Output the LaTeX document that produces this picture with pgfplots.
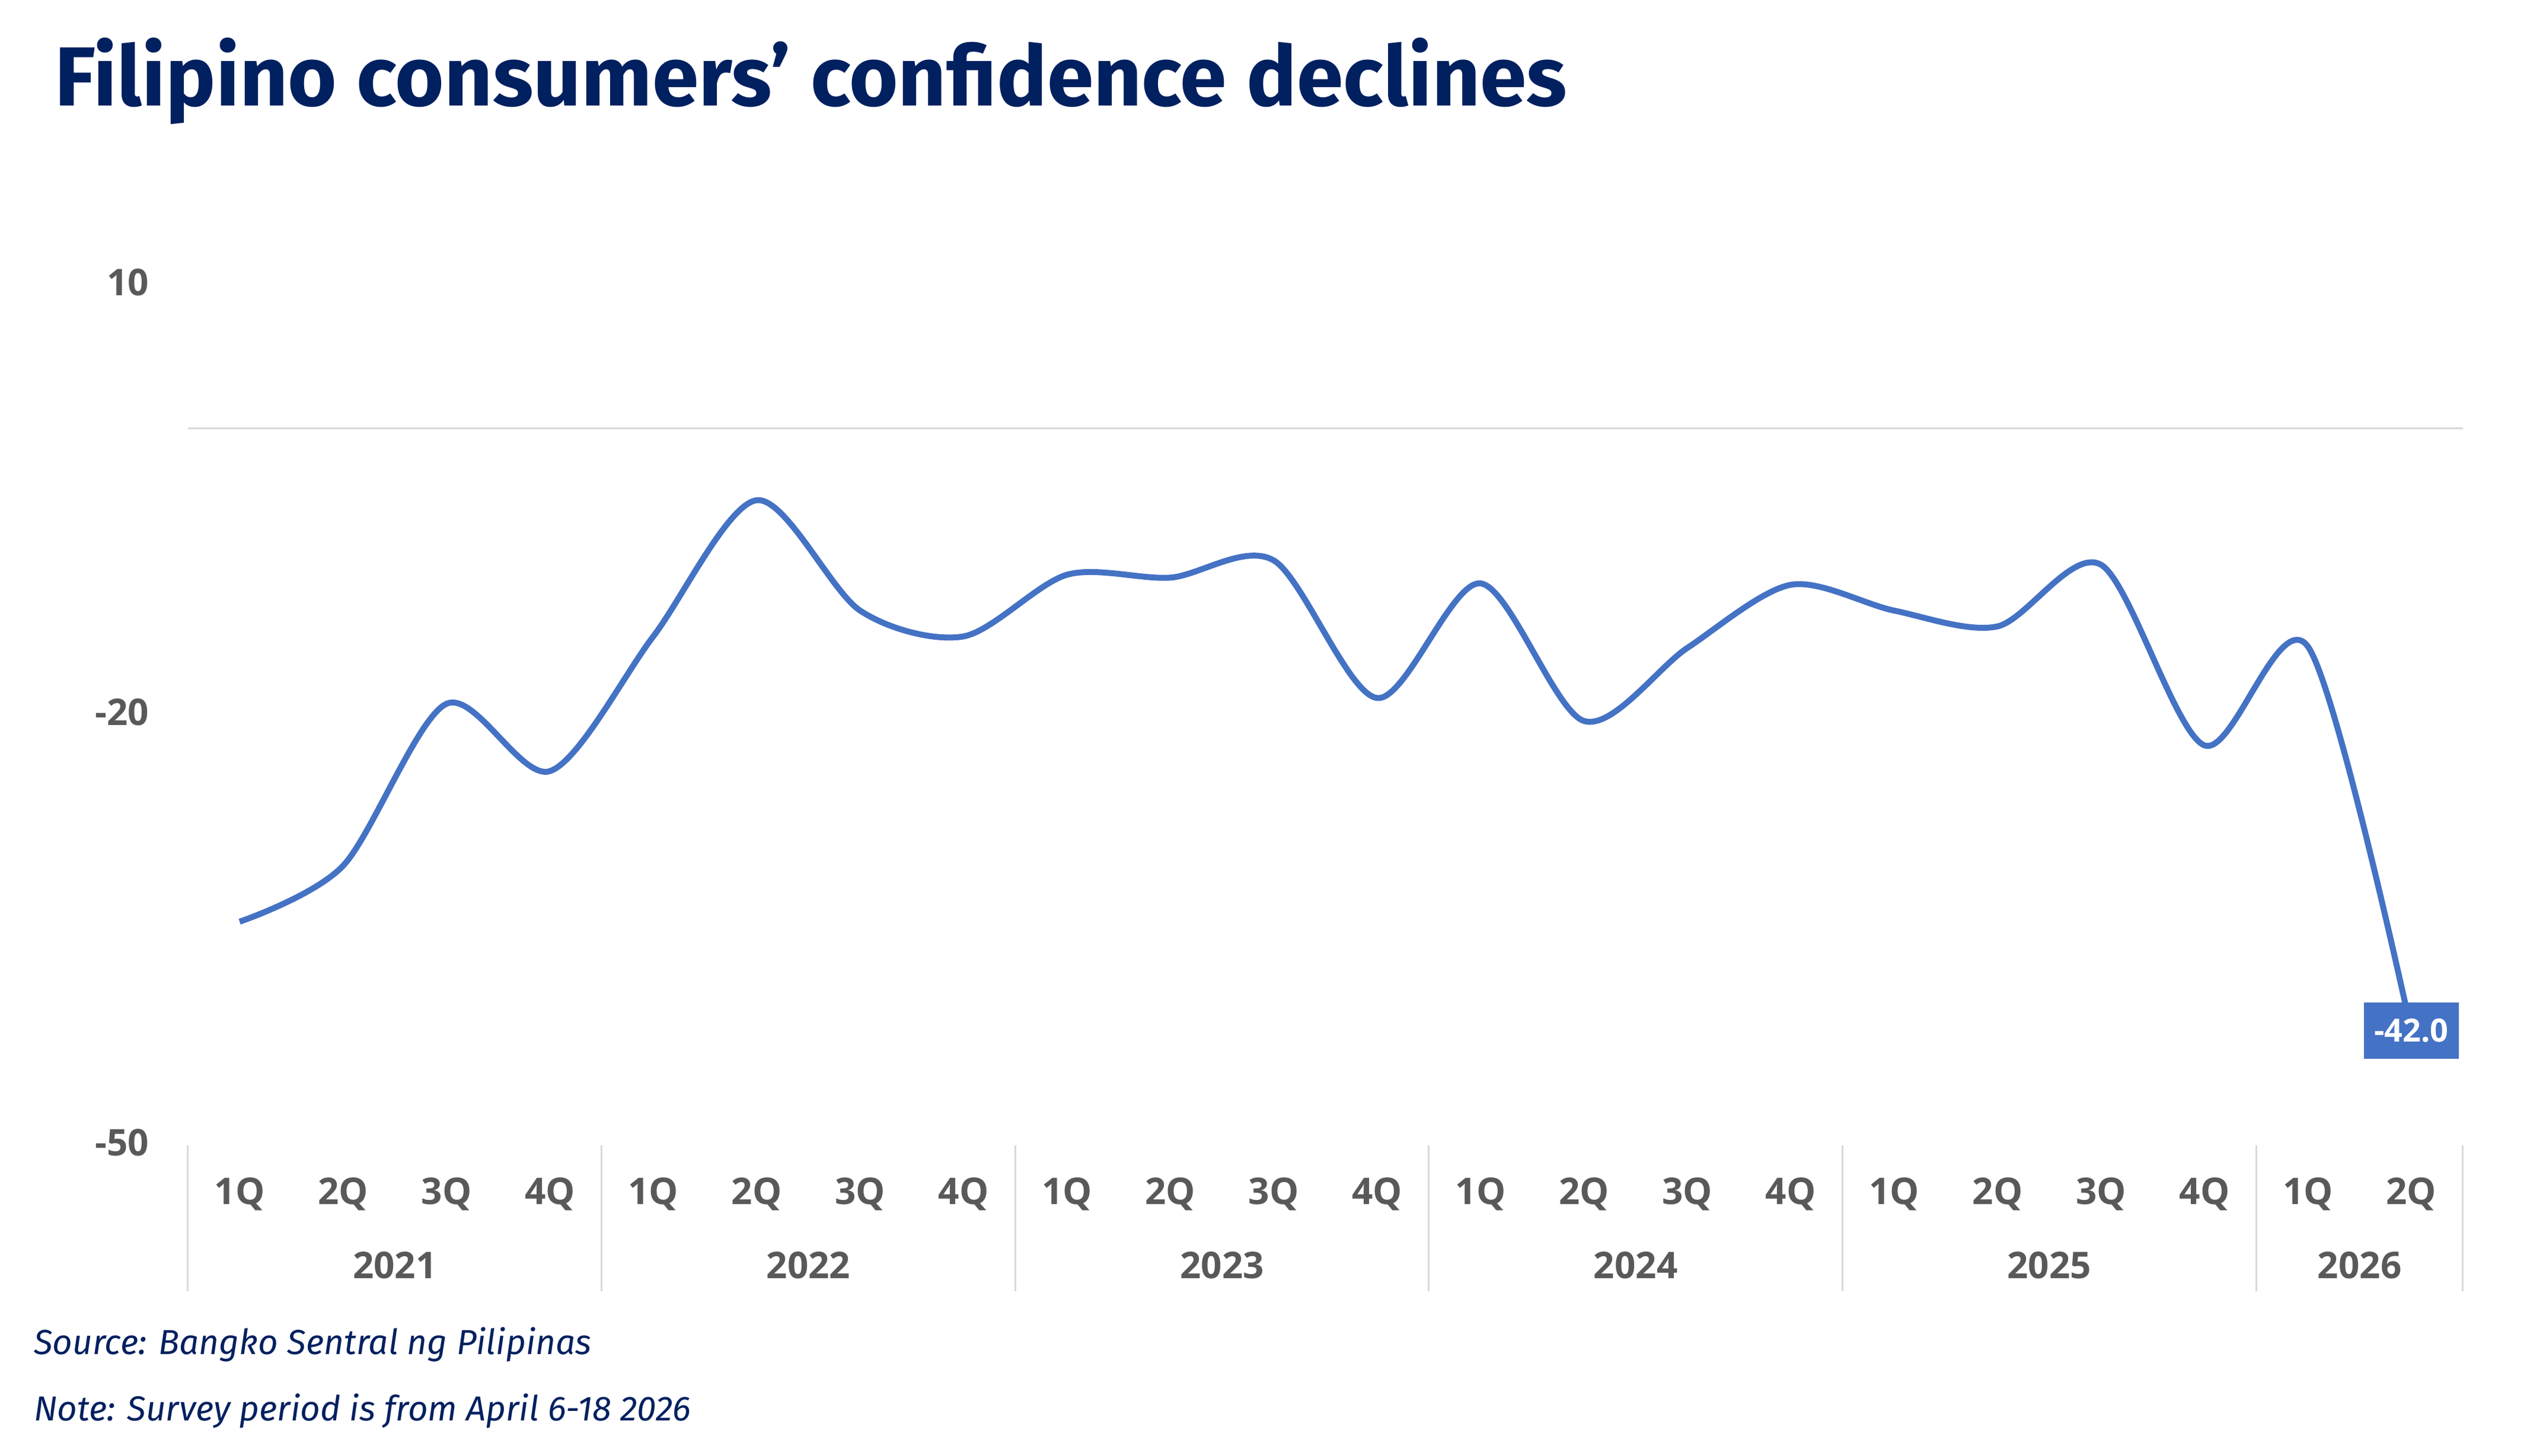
\documentclass[border=0pt]{standalone}
\usepackage{fontspec}
\setmainfont{Open Sans}
\newfontfamily\titlefont{Fira Sans}
\usepackage{pgfplots}
\pgfplotsset{compat=1.18}
\definecolor{navy}{RGB}{0,32,96}
\definecolor{tickgray}{RGB}{89,89,89}
\definecolor{lineblue}{RGB}{68,114,196}
\definecolor{sepgray}{RGB}{217,217,217}
\begin{document}
\begin{tikzpicture}[x=1pt,y=1pt]
\useasboundingbox (0,0) rectangle (426.2,245.6);
\node[anchor=base west, inner sep=0pt, text=navy, font=\titlefont\bfseries\fontsize{14.15}{17}\selectfont] at (9.1,227.7) {Filipino consumers’ confidence declines};
\node[anchor=base west, inner sep=0pt, text=navy, font=\titlefont\itshape\fontsize{5.85}{7}\selectfont] at (5.5,17.1) {Source: Bangko Sentral ng Pilipinas};
\node[anchor=base west, inner sep=0pt, text=navy, font=\titlefont\itshape\fontsize{5.85}{7}\selectfont] at (5.5,5.9) {Note: Survey period is from April 6-18 2026};
\begin{axis}[
  at={(31.7pt,52.4pt)}, anchor=south west,
  scale only axis, width=383.7pt, height=145.1pt,
  xmin=-0.5, xmax=21.5, ymin=-50, ymax=10,
  axis x line*=bottom, axis y line*=left,
  axis line style={draw=none},
  xtick={0,...,21},
  xticklabels={1Q,2Q,3Q,4Q,1Q,2Q,3Q,4Q,1Q,2Q,3Q,4Q,1Q,2Q,3Q,4Q,1Q,2Q,3Q,4Q,1Q,2Q},
  minor xtick={-0.5,3.5,7.5,11.5,15.5,19.5,21.5},
  extra x ticks={1.5,5.5,9.5,13.5,17.5,20.5},
  extra x tick labels={2021,2022,2023,2024,2025,2026},
  extra x tick style={major tick length=0pt, xticklabel style={yshift=-12.5pt}},
  ytick={-50,-20,10},
  yticklabels={-50,-20,10},
  extra y ticks={0}, extra y tick labels={},
  extra y tick style={ymajorgrids=true},
  major grid style={sepgray, line width=0.3pt},
  major tick length=0pt,
  minor tick length=24.6pt,
  tick align=outside,
  minor tick style={sepgray, line width=0.3pt},
  tick label style={font=\bfseries\fontsize{6.2}{7}\selectfont, text=tickgray, inner sep=0pt},
  xticklabel style={anchor=base, yshift=-10.0pt},
  yticklabel style={anchor=east, xshift=-6.4pt, yshift=0.5pt},
  clip=false,
]
\addplot[lineblue, line width=1.0pt, smooth] coordinates {
(0,-34.4) (1,-30.5) (2,-19.2) (3,-23.9) (4,-14.5) (5,-5.0) (6,-12.7) (7,-14.5)
(8,-10.2) (9,-10.4) (10,-9.2) (11,-18.8) (12,-10.8) (13,-20.4) (14,-15.3) (15,-10.9)
(16,-12.7) (17,-13.8) (18,-9.5) (19,-22.1) (20,-15.2) (21,-42.0)
};
\addplot[draw=none, nodes near coords, point meta=explicit symbolic,
  every node near coord/.style={fill=lineblue, text=white, font=\bfseries\fontsize{5.4}{6}\selectfont, anchor=center, minimum width=16pt, minimum height=9.5pt, inner sep=0pt}]
  coordinates {(21,-42.0) [-42.0]};
\end{axis}
\end{tikzpicture}
\end{document}
